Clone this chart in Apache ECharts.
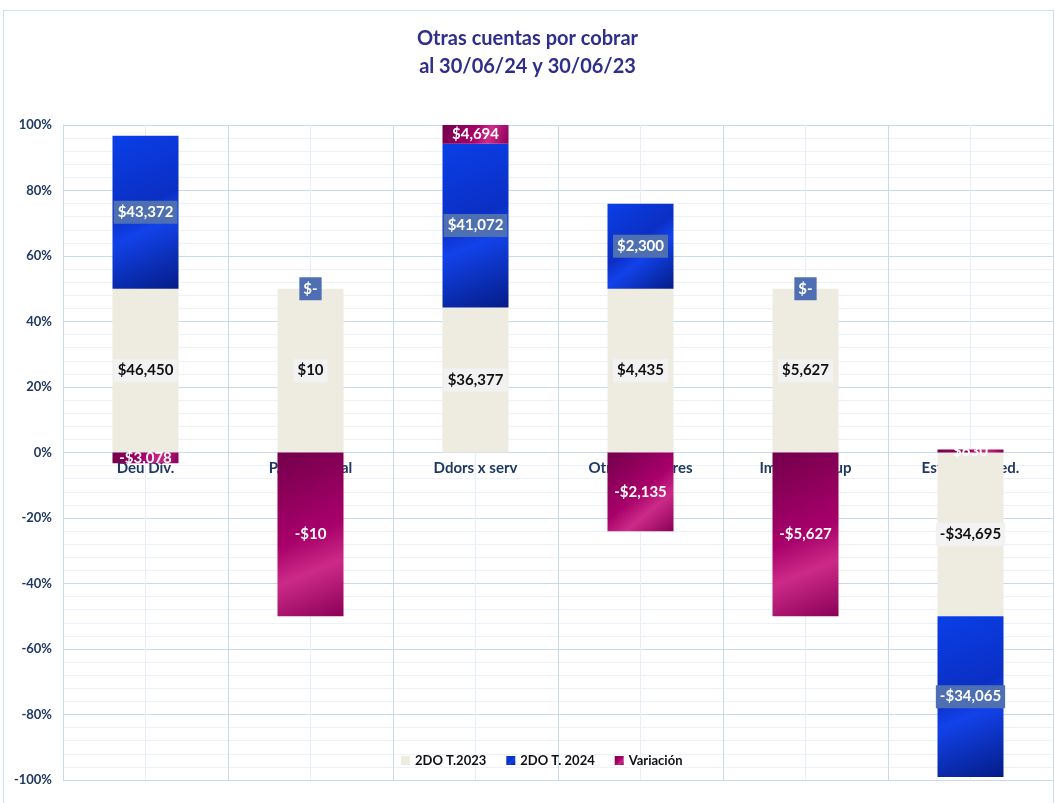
<!DOCTYPE html>
<html>
<head>
<meta charset="utf-8">
<script src="https://cdn.jsdelivr.net/npm/echarts@6/dist/echarts.min.js"></script>
<style>
  html, body { margin: 0; padding: 0; background: #fff; }
  #frame { position: absolute; left: 3px; top: 10px; width: 1051px; height: 800px; border: 1px solid #cfdff0; box-sizing: border-box; }
  #chart { position: absolute; left: 0; top: 0; width: 1055px; height: 803px; }
</style>
</head>
<body>
<div id="frame"></div>
<div id="chart"></div>
<script>
// categorias y montos (miles de $)
var categories = ['Deu Div.', 'P.al personal', 'Ddors x serv', 'Otros deudores', 'Impto x recup', 'Est. Pérd Cred.']
var t2023 = [46450, 10, 36377, 4435, 5627, -34695]
var t2024 = [43372, 0, 41072, 2300, 0, -34065]
var variacion = [-3078, -10, 4694, -2135, -5627, 630]
var yTicks = [-1, -0.8, -0.6, -0.4, -0.2, 0, 0.2, 0.4, 0.6, 0.8, 1]

// 100% apilado: cada valor como parte del total absoluto de la categoria
function share(arr) {
  return arr.map(function (v, i) {
    var total = Math.abs(t2023[i]) + Math.abs(t2024[i]) + Math.abs(variacion[i])
    return { value: v / total, raw: v }
  })
}

function money(v) {
  if (v === 0) return '$-'
  var s = '$' + Math.abs(v).toLocaleString('en-US')
  return v < 0 ? '-' + s : s
}

var font = 'Lato, "Open Sans", sans-serif'
var navy = '#1f3864'

var blueFill = new echarts.graphic.LinearGradient(0, 0, 1, 1, [
  { offset: 0, color: '#0a3fe8' },
  { offset: 0.45, color: '#0b2fc4' },
  { offset: 0.6, color: '#1242ea' },
  { offset: 1, color: '#041c86' }
])
var magentaFill = new echarts.graphic.LinearGradient(0, 0, 1, 1, [
  { offset: 0, color: '#73004b' },
  { offset: 0.5, color: '#a8006a' },
  { offset: 0.7, color: '#cc2a88' },
  { offset: 1, color: '#8a0058' }
])

var chart = echarts.init(document.getElementById('chart'))
chart.setOption({
  animation: false,
  title: {
    text: 'Otras cuentas por cobrar\nal 30/06/24 y 30/06/23',
    left: 'center',
    top: 20,
    textStyle: { color: '#2e2e8c', fontSize: 20, fontWeight: 'bold', lineHeight: 28, fontFamily: font }
  },
  legend: {
    bottom: 31,
    left: 396,
    itemWidth: 9,
    itemHeight: 9,
    itemGap: 20,
    icon: 'rect',
    textStyle: { color: '#111', fontSize: 13, fontWeight: 'bold', fontFamily: font },
    data: ['2DO T.2023', '2DO T. 2024', 'Variación']
  },
  // 0: barras, 1: cuadricula vertical, 2: etiquetas de categoria sobre el 0%
  grid: [
    { left: 63, right: 2, top: 125, bottom: 23 },
    { left: 63, right: 2, top: 125, bottom: 23 },
    { left: 63, right: 2, top: 125, bottom: 350 }
  ],
  xAxis: [{
    type: 'category',
    gridIndex: 0,
    data: categories,
    axisLine: { show: false },
    axisTick: { show: false },
    axisLabel: { show: false },
    splitLine: { show: false }
  }, {
    type: 'value',
    gridIndex: 1,
    min: 0,
    max: 6,
    interval: 1,
    axisLine: { show: false },
    axisTick: { show: false },
    axisLabel: { show: false },
    splitLine: { lineStyle: { color: '#c9d9ee', width: 1 } },
    minorTick: { show: false, splitNumber: 2 },
    minorSplitLine: { show: true, lineStyle: { color: '#e8eef7', width: 1 } }
  }, {
    type: 'category',
    gridIndex: 2,
    data: categories,
    axisLine: { show: false },
    axisTick: { show: false },
    splitLine: { show: false },
    axisLabel: { color: navy, fontSize: 15, fontWeight: 'bold', fontFamily: font, margin: 8 }
  }],
  yAxis: [{
    type: 'value',
    gridIndex: 0,
    min: yTicks[0],
    max: yTicks[yTicks.length - 1],
    interval: 0.2,
    axisLine: { show: true, lineStyle: { color: '#c9d9ee' } },
    axisTick: { show: false },
    axisLabel: {
      color: navy, fontSize: 13, fontWeight: 'bold', fontFamily: font, margin: 11,
      formatter: function (v) { return Math.round(v * 100) + '%' }
    },
    splitLine: { lineStyle: { color: '#c9d9ee', width: 1 } },
    minorTick: { show: false, splitNumber: 5 },
    minorSplitLine: { show: true, lineStyle: { color: '#edf1f8', width: 1 } }
  }, {
    type: 'value',
    gridIndex: 1,
    show: false
  }, {
    type: 'value',
    gridIndex: 2,
    show: false
  }],
  series: [
    {
      name: '2DO T.2023',
      type: 'bar',
      stack: 'total',
      barWidth: '40%',
      itemStyle: { color: '#eeece1' },
      label: {
        show: true,
        position: 'inside',
        color: '#111',
        fontSize: 15,
        fontWeight: 'bold',
        fontFamily: font,
        backgroundColor: '#f2f2f2',
        padding: [4, 4],
        formatter: function (p) { return money(p.data.raw) }
      },
      data: share(t2023)
    },
    {
      name: '2DO T. 2024',
      type: 'bar',
      stack: 'total',
      itemStyle: { color: blueFill },
      label: {
        show: true,
        position: 'inside',
        color: '#fff',
        fontSize: 15,
        fontWeight: 'bold',
        fontFamily: font,
        backgroundColor: '#4f6fb3',
        padding: [4, 4],
        formatter: function (p) { return money(p.data.raw) }
      },
      data: share(t2024)
    },
    {
      name: 'Variación',
      type: 'bar',
      stack: 'total',
      itemStyle: { color: magentaFill },
      label: {
        show: true,
        position: 'inside',
        color: '#fff',
        fontSize: 15,
        fontWeight: 'bold',
        fontFamily: font,
        formatter: function (p) { return money(p.data.raw) }
      },
      data: share(variacion)
    }
  ]
})
</script>
</body>
</html>
